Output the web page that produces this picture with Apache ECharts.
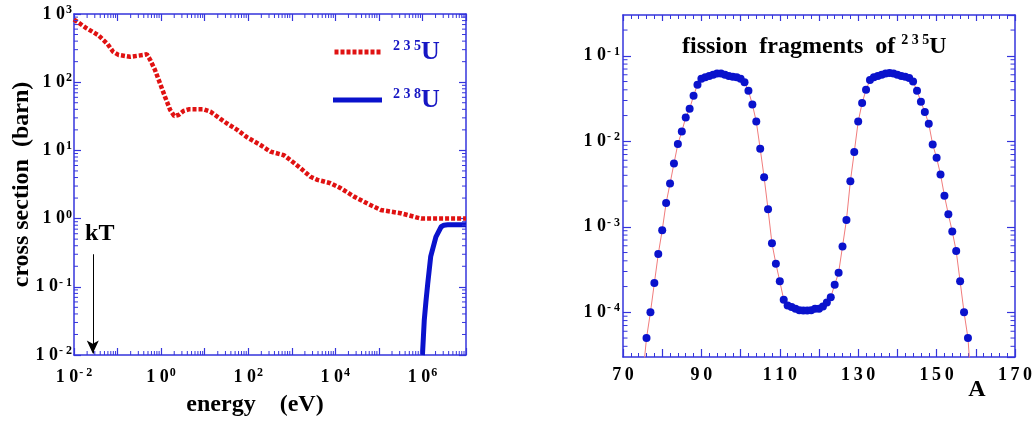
<!DOCTYPE html>
<html><head><meta charset="utf-8">
<script src="https://cdn.jsdelivr.net/npm/echarts@6/dist/echarts.min.js"></script>
<style>html,body{margin:0;padding:0;background:#fff}#c{width:1036px;height:423px}</style>
</head><body><div id="c"></div>
<script>
// ---- data: 235U and 238U fission cross sections (barn) vs neutron energy (eV)
const u235Energy = [0.01, 0.0195, 0.036, 0.059, 0.079, 0.105, 0.195, 0.40, 0.47, 0.56, 0.72, 0.95, 1.23, 1.62, 2.0, 2.5, 3.3, 4.3, 9.5, 13.5, 23, 32, 56, 95, 190, 324, 660, 933, 1585, 2690, 3890, 7760, 13180, 26900, 55000, 110000, 316000, 933000, 1e7];
const u235Sigma  = [830, 617, 490, 363, 280, 251, 236, 251, 257, 213, 152, 95, 61, 39, 32, 33, 38, 40, 40, 37, 29, 25, 20, 15.5, 12, 9.6, 8.5, 7.2, 5.5, 4.1, 3.7, 3.3, 2.8, 2.1, 1.66, 1.34, 1.2, 1.0, 1.0];
const u238Energy = [1.0e6, 1.05e6, 1.1e6, 1.2e6, 1.32e6, 1.55e6, 2.04e6, 2.69e6, 3.1e6, 3.8e6, 1e7];
const u238Sigma  = [0.01, 0.018, 0.032, 0.06, 0.11, 0.28, 0.54, 0.76, 0.8, 0.81, 0.81];
const kTEnergy = 0.027;
// ---- data: fission fragment mass yield of 235U
const massNumber = [76,77,78,79,80,81,82,83,84,85,86,87,88,89,90,91,92,93,94,95,96,97,98,99,100,101,102,103,104,105,106,107,108,109,110,111,112,113,114,115,116,117,118,119,120,121,122,123,124,125,126,127,128,129,130,131,132,133,134,135,136,137,138,139,140,141,142,143,144,145,146,147,148,149,150,151,152,153,154,155,156,157,158];
const fragmentYield = [5.0e-5,1.0e-4,2.2e-4,4.8e-4,9.1e-4,1.9e-3,3.2e-3,5.5e-3,9.3e-3,0.013,0.019,0.024,0.034,0.046,0.054,0.056,0.058,0.060,0.062,0.062,0.060,0.058,0.057,0.056,0.054,0.049,0.039,0.027,0.017,0.0082,0.0038,0.0016,6.4e-4,3.7e-4,2.3e-4,1.4e-4,1.2e-4,1.15e-4,1.1e-4,1.06e-4,1.05e-4,1.05e-4,1.06e-4,1.1e-4,1.1e-4,1.17e-4,1.3e-4,1.5e-4,2.1e-4,2.9e-4,5.9e-4,1.2e-3,3.4e-3,7.5e-3,0.017,0.028,0.040,0.052,0.056,0.058,0.060,0.062,0.063,0.062,0.060,0.058,0.057,0.055,0.050,0.039,0.029,0.022,0.016,0.0092,0.0064,0.0041,0.0023,0.0014,8.8e-4,5.2e-4,2.3e-4,1.0e-4,5.0e-5];
const lineEndA = [75, 159];
const lineEndYield = [1.7e-5, 1.1e-5];
const xTickLabelsA = [70, 90, 110, 130, 150, 170];

const F = '"Liberation Serif","Times New Roman",serif';
const AX = '#3434dc';
const RED = '#e01212';
const BLUE = '#0a12cc';

const E_MIN = 0.01, E_MAX = 1e7, S_MIN = 0.01, S_MAX = 1000, Y_MIN = 3e-5, Y_MAX = 0.3;

function supLabel(v){
  const e = Math.round(Math.log10(v));
  return '{b|1 0}{s|' + (e < 0 ? '- ' + (-e) : e) + '}';
}
const richLab = {
  b: {fontSize: 18, fontWeight: 'bold', fontFamily: F, color: '#000', lineHeight: 20},
  s: {fontSize: 12, fontWeight: 'bold', fontFamily: F, color: '#000', verticalAlign: 'top', lineHeight: 12, padding:[0,0,0,1]}
};
const axLine = {show: true, lineStyle: {color: AX, width: 1.5}};
function logAxisCommon(extra){
  return Object.assign({
    type: 'log', logBase: 10,
    axisLine: axLine,
    axisTick: {show: true, inside: true, length: 7, lineStyle: {color: AX, width: 1.2}},
    minorTick: {show: false},
    splitLine: {show: false}, minorSplitLine: {show: false}
  }, extra);
}

// log-axis minor tick positions (2..9 x 10^k), strictly inside [lo, hi]
function logMinor(lo, hi){
  const out = [];
  for (let k = Math.floor(Math.log10(lo)); k <= Math.ceil(Math.log10(hi)); k++)
    for (let m = 2; m <= 9; m++) { const v = m * Math.pow(10, k); if (v > lo * 1.0001 && v < hi * 0.9999) out.push(v); }
  return out;
}
function tickRender(len){
  return function(params, api){
    const cs = params.coordSys;
    const p = api.coord([api.value(0), api.value(1)]);
    const style = {stroke: AX, lineWidth: 1};
    if (api.value(2) === 0) {
      const yb = cs.y + cs.height, yt = cs.y;
      return {type: 'group', children: [
        {type: 'line', shape: {x1: p[0], y1: yb, x2: p[0], y2: yb - len}, style: style},
        {type: 'line', shape: {x1: p[0], y1: yt, x2: p[0], y2: yt + len}, style: style}]};
    }
    const xl = cs.x, xr = cs.x + cs.width;
    return {type: 'group', children: [
      {type: 'line', shape: {x1: xl, y1: p[1], x2: xl + len, y2: p[1]}, style: style},
      {type: 'line', shape: {x1: xr, y1: p[1], x2: xr - len, y2: p[1]}, style: style}]};
  };
}
const leftMinorTicks = logMinor(E_MIN, E_MAX).map(v => [v, S_MIN, 0]).concat(logMinor(S_MIN, S_MAX).map(v => [E_MIN, v, 1]));
const rightMinorTicks = logMinor(Y_MIN, Y_MAX).map(v => [70, v, 1]);

const pairs = (xs, ys) => xs.map((x, i) => [x, ys[i]]);
const yieldLine = [[lineEndA[0], lineEndYield[0]]].concat(pairs(massNumber, fragmentYield)).concat([[lineEndA[1], lineEndYield[1]]]);

const redIcon = 'path://' + Array.from({length: 8}, (_, i) => 'M' + (i*6) + ',0h4v5h-4z').join('');

const chart = echarts.init(document.getElementById('c'), null, {renderer: 'canvas'});
chart.setOption({
  animation: false,
  backgroundColor: '#fff',
  title: {
    text: '{t|fission  fragments  of }{s|2 3 5}{t|U}',
    left: 677, top: 28,
    textStyle: {rich: {
      t: {fontSize: 24, fontWeight: 'bold', fontFamily: F, color: '#000', lineHeight: 28},
      s: {fontSize: 14, fontWeight: 'bold', fontFamily: F, color: '#000', verticalAlign: 'top', lineHeight: 14}
    }}
  },
  legend: {
    left: 328, top: 34, orient: 'vertical', itemWidth: 49, itemHeight: 5, itemGap: 22,
    data: [{name: '235U', icon: redIcon, itemStyle: {color: RED}}, {name: '238U', icon: 'rect', itemStyle: {color: BLUE}}],
    formatter: n => '{s|' + n.slice(0,3).split('').join(' ') + '}{u|U}',
    textStyle: {rich: {
      s: {fontSize: 14, fontWeight: 'bold', fontFamily: F, color: '#1717c4', verticalAlign: 'top', lineHeight: 14, padding: [0,0,0,6]},
      u: {fontSize: 26, fontWeight: 'bold', fontFamily: F, color: '#1717c4', lineHeight: 26}
    }}
  },
  grid: [
    {left: 74, top: 14, width: 392, height: 341},
    {left: 623, top: 15, width: 392, height: 342}
  ],
  xAxis: [
    logAxisCommon({gridIndex: 0, position: 'bottom', min: E_MIN, max: E_MAX, splitNumber: 9,
      name: 'energy    (eV)', nameLocation: 'middle', nameGap: 38, nameMoveOverlap: false,
      nameTextStyle: {fontSize: 24, fontWeight: 'bold', fontFamily: F, color: '#000', padding: [0, 30, 0, 0]},
      axisLabel: {margin: 12, rich: richLab, formatter: v => (Math.round(Math.log10(v)) % 2 === 0 ? supLabel(v) : '')}}),
    logAxisCommon({gridIndex: 0, position: 'top', min: E_MIN, max: E_MAX, splitNumber: 9, axisLabel: {show: false}}),
    {type: 'value', gridIndex: 1, position: 'bottom', min: 70, max: 170, interval: 10,
      axisLine: axLine,
      axisTick: {show: true, inside: true, length: 8, lineStyle: {color: AX, width: 1.2}},
      minorTick: {show: true, splitNumber: 5, length: 4, lineStyle: {color: AX, width: 1}},
      splitLine: {show: false},
      name: 'A', nameLocation: 'middle', nameGap: 21, nameMoveOverlap: false,
      nameTextStyle: {fontSize: 24, fontWeight: 'bold', fontFamily: F, color: '#000', padding: [0, 0, 0, 316]},
      axisLabel: {margin: 9, fontSize: 18, fontWeight: 'bold', fontFamily: F, color: '#000',
        formatter: v => xTickLabelsA.indexOf(v) >= 0 ? String(v).split('').join('\u2009') : ''}},
    {type: 'value', gridIndex: 1, position: 'top', min: 70, max: 170, interval: 10,
      axisLine: axLine,
      axisTick: {show: true, inside: true, length: 6, lineStyle: {color: AX, width: 1.2}},
      minorTick: {show: true, splitNumber: 5, length: 4, lineStyle: {color: AX, width: 1}},
      splitLine: {show: false}, axisLabel: {show: false}}
  ],
  yAxis: [
    logAxisCommon({gridIndex: 0, position: 'left', min: S_MIN, max: S_MAX, splitNumber: 5,
      name: 'cross section  (barn)', nameLocation: 'middle', nameGap: 40, nameRotate: 90, nameMoveOverlap: false,
      nameTextStyle: {fontSize: 24, fontWeight: 'bold', fontFamily: F, color: '#000'},
      axisLabel: {margin: 2, rich: richLab, formatter: v => supLabel(v)}}),
    logAxisCommon({gridIndex: 0, position: 'right', min: S_MIN, max: S_MAX, splitNumber: 5, axisLabel: {show: false}}),
    logAxisCommon({gridIndex: 1, position: 'left', min: Y_MIN, max: Y_MAX, splitNumber: 4,
      axisTick: {show: true, inside: true, length: 8, lineStyle: {color: AX, width: 1.2}},
      axisLabel: {margin: 3, rich: richLab, showMinLabel: false, showMaxLabel: false,
        formatter: v => { const e = Math.log10(v); return Math.abs(e - Math.round(e)) < 1e-6 ? supLabel(v) : ''; }}}),
    logAxisCommon({gridIndex: 1, position: 'right', min: Y_MIN, max: Y_MAX, splitNumber: 4,
      axisTick: {show: true, inside: true, length: 8, lineStyle: {color: AX, width: 1.2}},
      axisLabel: {show: false}})
  ],
  series: [
    {name: 'minor ticks L', type: 'custom', xAxisIndex: 0, yAxisIndex: 0, data: leftMinorTicks,
      renderItem: tickRender(4), clip: false, silent: true, z: 5},
    {name: 'minor ticks R', type: 'custom', xAxisIndex: 2, yAxisIndex: 2, data: rightMinorTicks,
      renderItem: tickRender(4.5), clip: false, silent: true, z: 5},
    {name: '235U', type: 'line', xAxisIndex: 0, yAxisIndex: 0, data: pairs(u235Energy, u235Sigma),
      showSymbol: false, lineStyle: {color: RED, width: 4.5, type: [4, 2], cap: 'butt'}, itemStyle: {color: RED},
      markLine: {silent: true, symbol: ['none', 'arrow'], symbolSize: [9, 13], animation: false,
        lineStyle: {color: '#000', width: 1, type: 'solid'},
        label: {show: true, position: 'start', distance: 8, padding: [0, 0, 0, 14], formatter: 'kT', fontSize: 24, fontWeight: 'bold', fontFamily: F, color: '#000'},
        data: [[{coord: [kTEnergy, 0.3]}, {coord: [kTEnergy, 0.0105]}]]}},
    {name: '238U', type: 'line', xAxisIndex: 0, yAxisIndex: 0, data: pairs(u238Energy, u238Sigma),
      showSymbol: false, lineStyle: {color: BLUE, width: 5, join: 'round'}, itemStyle: {color: BLUE}},
    {name: 'yield line', type: 'line', xAxisIndex: 2, yAxisIndex: 2, data: yieldLine, z: 2,
      showSymbol: false, lineStyle: {color: '#f07c7c', width: 1}, itemStyle: {color: '#f07c7c'}},
    {name: 'yield', type: 'scatter', xAxisIndex: 2, yAxisIndex: 2, data: pairs(massNumber, fragmentYield), z: 4,
      symbolSize: 8, itemStyle: {color: BLUE, opacity: 1}}
  ]
});
</script></body></html>
